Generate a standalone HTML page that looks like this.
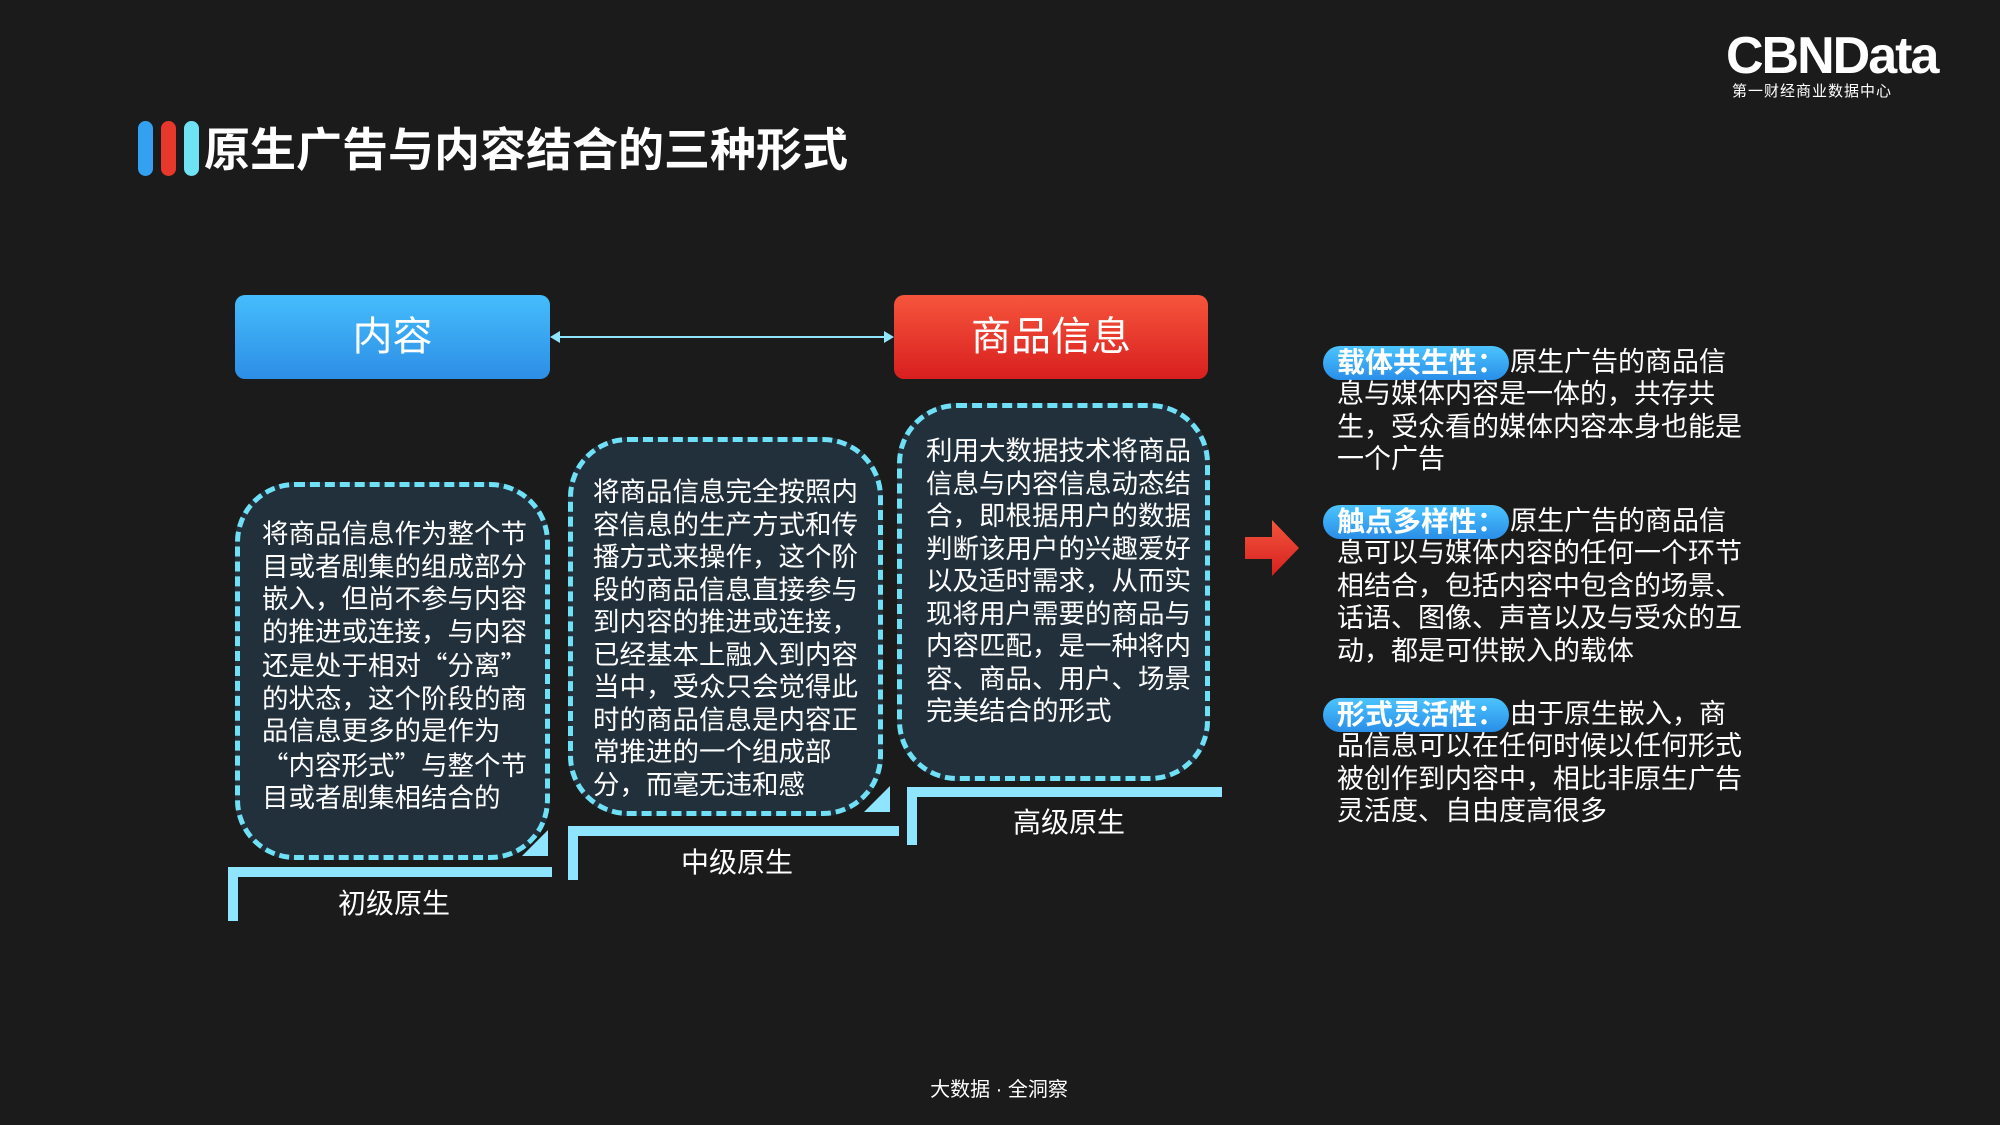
<!DOCTYPE html>
<html><head><meta charset="utf-8">
<style>
body{margin:0;width:2000px;height:1125px;background:#1b1b1b;position:relative;overflow:hidden;font-family:"Liberation Sans","Noto Sans CJK SC",sans-serif;color:#fff}
.a{position:absolute}
.q{font-family:"Noto Sans CJK SC",sans-serif}
.bar{position:absolute;top:121px;width:15px;height:55px;border-radius:8px}
.hbox{position:absolute;top:295px;height:84px;border-radius:10px;font-size:40px;text-align:center;line-height:84px}
.db{position:absolute;background:#22303c;border:5px dashed #6fe0f6;border-radius:60px;box-sizing:border-box}
.bt{position:absolute;font-size:26.5px;line-height:32.5px;white-space:nowrap}
.br{position:absolute;border-top:10px solid #8fe5ff;border-left:10px solid #8fe5ff}
.lab{position:absolute;font-size:28px;transform:translateX(-50%);white-space:nowrap}
.tri{position:absolute;width:0;height:0;border-left:26px solid transparent;border-bottom:26px solid #8fe5ff}
.rt{position:absolute;left:1337px;font-size:27px;line-height:32.5px;white-space:nowrap}
.pill{position:absolute;left:1323px;width:186px;height:34px;border-radius:17px;background:linear-gradient(#4cc4ff,#2a8ee8);font-weight:bold;font-size:28px;line-height:34px;padding-left:14px;box-sizing:border-box;white-space:nowrap}
</style></head><body>
<div class="bar" style="left:138px;background:#33a0f0"></div>
<div class="bar" style="left:161px;background:#e8382c"></div>
<div class="bar" style="left:184px;background:#6fe3f4"></div>
<div class="a" style="left:204px;top:120px;font-size:46px;font-weight:bold;line-height:60px">原生广告与内容结合的三种形式</div>
<div class="a" style="left:1726px;top:26px;font-size:52px;font-weight:bold;letter-spacing:-2px;line-height:60px">CBNData</div>
<div class="a" style="left:1732px;top:80px;font-size:15px;letter-spacing:1px">第一财经商业数据中心</div>

<div class="hbox" style="left:235px;width:315px;background:linear-gradient(#45bdfc,#2d8ee6)">内容</div>
<div class="hbox" style="left:894px;width:314px;background:linear-gradient(#f6553c,#d81f1f)">商品信息</div>
<svg class="a" style="left:548px;top:327px" width="350" height="20"><line x1="6" y1="10" x2="342" y2="10" stroke="#8fe5ff" stroke-width="2"/><polygon points="2,10 12,4 12,16" fill="#8fe5ff"/><polygon points="346,10 336,4 336,16" fill="#8fe5ff"/></svg>

<div class="db" style="left:235px;top:482px;width:315px;height:378px"></div>
<div class="db" style="left:568px;top:437px;width:315px;height:379px"></div>
<div class="db" style="left:897px;top:403px;width:313px;height:378px"></div>
<div class="tri" style="left:522px;top:830px"></div>
<div class="tri" style="left:864px;top:786px"></div>

<div class="bt" style="left:262px;top:518px">将商品信息作为整个节<br>目或者剧集的组成部分<br>嵌入，但尚不参与内容<br>的推进或连接，与内容<br>还是处于相对<span class="q">“</span>分离<span class="q">”</span><br>的状态，这个阶段的商<br>品信息更多的是作为<br><span class="q">“</span>内容形式<span class="q">”</span>与整个节<br>目或者剧集相结合的</div>
<div class="bt" style="left:593px;top:476px">将商品信息完全按照内<br>容信息的生产方式和传<br>播方式来操作，这个阶<br>段的商品信息直接参与<br>到内容的推进或连接，<br>已经基本上融入到内容<br>当中，受众只会觉得此<br>时的商品信息是内容正<br>常推进的一个组成部<br>分，而毫无违和感</div>
<div class="bt" style="left:926px;top:435px">利用大数据技术将商品<br>信息与内容信息动态结<br>合，即根据用户的数据<br>判断该用户的兴趣爱好<br>以及适时需求，从而实<br>现将用户需要的商品与<br>内容匹配，是一种将内<br>容、商品、用户、场景<br>完美结合的形式</div>

<div class="br" style="left:228px;top:867px;width:314px;height:44px"></div>
<div class="br" style="left:568px;top:826px;width:321px;height:44px"></div>
<div class="br" style="left:907px;top:787px;width:305px;height:48px"></div>
<div class="lab" style="left:394px;top:882px">初级原生</div>
<div class="lab" style="left:737px;top:841px">中级原生</div>
<div class="lab" style="left:1069px;top:801px">高级原生</div>

<svg class="a" style="left:1245px;top:520px" width="55" height="56"><defs><linearGradient id="g" x1="0" y1="0" x2="0" y2="1"><stop offset="0" stop-color="#f4553c"/><stop offset="1" stop-color="#d62020"/></linearGradient></defs><polygon points="0,17 27,17 27,0 54,28 27,56 27,39 0,39" fill="url(#g)"/></svg>

<div class="pill" style="top:346px">载体共生性：</div>
<div class="rt" style="left:1510px;top:346px">原生广告的商品信</div>
<div class="rt" style="top:378px">息与媒体内容是一体的，共存共<br>生，受众看的媒体内容本身也能是<br>一个广告</div>

<div class="pill" style="top:505px">触点多样性：</div>
<div class="rt" style="left:1510px;top:505px">原生广告的商品信</div>
<div class="rt" style="top:537px">息可以与媒体内容的任何一个环节<br>相结合，包括内容中包含的场景、<br>话语、图像、声音以及与受众的互<br>动，都是可供嵌入的载体</div>

<div class="pill" style="top:698px">形式灵活性：</div>
<div class="rt" style="left:1510px;top:698px">由于原生嵌入，商</div>
<div class="rt" style="top:730px">品信息可以在任何时候以任何形式<br>被创作到内容中，相比非原生广告<br>灵活度、自由度高很多</div>

<div class="a" style="left:999px;top:1073px;transform:translateX(-50%);font-size:20px;white-space:nowrap">大数据 · 全洞察</div>
</body></html>
